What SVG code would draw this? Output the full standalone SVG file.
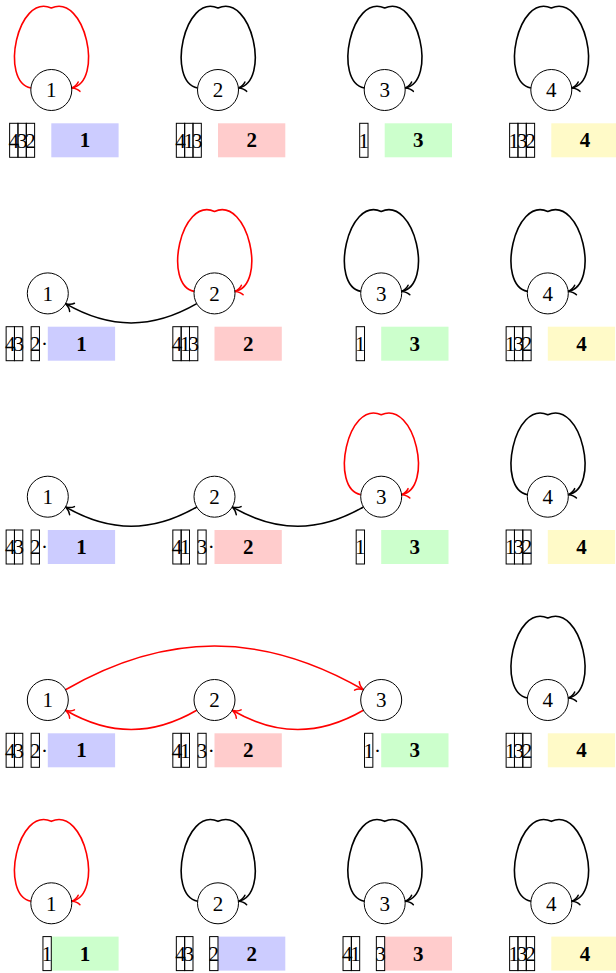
<svg xmlns="http://www.w3.org/2000/svg" width="616" height="973" viewBox="0 0 616 973">
<style>
.nc{fill:#fff;stroke:#000;stroke-width:1}
.t{font-family:"Liberation Serif","DejaVu Serif",serif;font-size:21px;text-anchor:middle;fill:#000}
.b{font-family:"Liberation Serif","DejaVu Serif",serif;font-size:21px;font-weight:bold;text-anchor:middle;fill:#000}
.c{fill:none;stroke:#000;stroke-width:1}
.k{fill:none;stroke:#000;stroke-width:1.6;marker-end:url(#ak)}
.r{fill:none;stroke:#f00;stroke-width:1.6;marker-end:url(#ar)}
.bl{fill:#ccccff}.pk{fill:#ffcccc}.gr{fill:#ccffcc}.ye{fill:#fffac8}
</style>
<defs>
<marker id="ak" markerUnits="userSpaceOnUse" viewBox="-10 -10 20 20" markerWidth="20" markerHeight="20" refX="0" refY="0" orient="auto" overflow="visible">
<path d="M -7.5,-4.8 C -5.8,-2 -2.2,-0.6 0,0 C -2.2,0.6 -5.8,2 -7.5,4.8" fill="none" stroke="#000" stroke-width="1.5" stroke-linecap="round"/>
</marker>
<marker id="ar" markerUnits="userSpaceOnUse" viewBox="-10 -10 20 20" markerWidth="20" markerHeight="20" refX="0" refY="0" orient="auto" overflow="visible">
<path d="M -7.5,-4.8 C -5.8,-2 -2.2,-0.6 0,0 C -2.2,0.6 -5.8,2 -7.5,4.8" fill="none" stroke="#f00" stroke-width="1.5" stroke-linecap="round"/>
</marker>
</defs>
<g id="connectors">
<path class="r" transform="translate(51.3,90)" d="M -20.4,-2 C -52,-8 -34,-97 0,-82 C 34,-97 53,-8 20.4,-2"/>
<path class="k" transform="translate(218,90)" d="M -20.4,-2 C -52,-8 -34,-97 0,-82 C 34,-97 53,-8 20.4,-2"/>
<path class="k" transform="translate(384.7,90)" d="M -20.4,-2 C -52,-8 -34,-97 0,-82 C 34,-97 53,-8 20.4,-2"/>
<path class="k" transform="translate(551.3,90)" d="M -20.4,-2 C -52,-8 -34,-97 0,-82 C 34,-97 53,-8 20.4,-2"/>

<path class="r" transform="translate(214.5,293.4)" d="M -20.4,-2 C -52,-8 -34,-97 0,-82 C 34,-97 53,-8 20.4,-2"/>
<path class="k" transform="translate(381.2,293.4)" d="M -20.4,-2 C -52,-8 -34,-97 0,-82 C 34,-97 53,-8 20.4,-2"/>
<path class="k" transform="translate(547.8,293.4)" d="M -20.4,-2 C -52,-8 -34,-97 0,-82 C 34,-97 53,-8 20.4,-2"/>
<path class="k" d="M 196.75,303.65 C 152.25,329.35 110.05,329.35 65.55,303.65"/>

<path class="r" transform="translate(381.2,496.7)" d="M -20.4,-2 C -52,-8 -34,-97 0,-82 C 34,-97 53,-8 20.4,-2"/>
<path class="k" transform="translate(547.8,496.7)" d="M -20.4,-2 C -52,-8 -34,-97 0,-82 C 34,-97 53,-8 20.4,-2"/>
<path class="k" d="M 196.75,506.95 C 152.25,532.65 110.05,532.65 65.55,506.95"/>
<path class="k" d="M 363.42,506.95 C 318.92,532.65 276.72,532.65 232.22,506.95"/>

<path class="k" transform="translate(547.8,700)" d="M -20.4,-2 C -52,-8 -34,-97 0,-82 C 34,-97 53,-8 20.4,-2"/>
<path class="r" d="M 65.55,689.75 C 166.55,631.45 262.35,631.45 363.45,689.75"/>
<path class="r" d="M 196.75,710.25 C 152.25,735.95 110.05,735.95 65.55,710.25"/>
<path class="r" d="M 363.42,710.25 C 318.92,735.95 276.72,735.95 232.22,710.25"/>

<path class="r" transform="translate(51.3,903.3)" d="M -20.4,-2 C -52,-8 -34,-97 0,-82 C 34,-97 53,-8 20.4,-2"/>
<path class="k" transform="translate(218,903.3)" d="M -20.4,-2 C -52,-8 -34,-97 0,-82 C 34,-97 53,-8 20.4,-2"/>
<path class="k" transform="translate(384.7,903.3)" d="M -20.4,-2 C -52,-8 -34,-97 0,-82 C 34,-97 53,-8 20.4,-2"/>
<path class="k" transform="translate(551.3,903.3)" d="M -20.4,-2 C -52,-8 -34,-97 0,-82 C 34,-97 53,-8 20.4,-2"/>
</g>

<!-- Row 1 -->
<g id="r1n1">
<circle class="nc" cx="51.3" cy="90" r="20.5"/><text class="t" x="51.3" y="97.3">1</text>
<rect class="bl" x="51.3" y="123.3" width="67.3" height="34"/><text class="b" x="84.95" y="147.3">1</text>
<rect class="c" x="9.63" y="123.3" width="8.33" height="34"/><rect class="c" x="17.96" y="123.3" width="8.33" height="34"/><rect class="c" x="26.29" y="123.3" width="8.33" height="34"/>
<text class="t" x="13.8" y="147.5">4</text><text class="t" x="22.13" y="147.5">3</text><text class="t" x="30.46" y="147.5">2</text>
</g>
<g id="r1n2">
<circle class="nc" cx="218" cy="90" r="20.5"/><text class="t" x="218" y="97.3">2</text>
<rect class="pk" x="218" y="123.3" width="67.3" height="34"/><text class="b" x="251.65" y="147.3">2</text>
<rect class="c" x="176.33" y="123.3" width="8.33" height="34"/><rect class="c" x="184.66" y="123.3" width="8.33" height="34"/><rect class="c" x="192.99" y="123.3" width="8.33" height="34"/>
<text class="t" x="180.5" y="147.5">4</text><text class="t" x="188.83" y="147.5">1</text><text class="t" x="197.16" y="147.5">3</text>
</g>
<g id="r1n3">
<circle class="nc" cx="384.7" cy="90" r="20.5"/><text class="t" x="384.7" y="97.3">3</text>
<rect class="gr" x="384.7" y="123.3" width="67.3" height="34"/><text class="b" x="418.35" y="147.3">3</text>
<rect class="c" x="359.69" y="123.3" width="8.33" height="34"/>
<text class="t" x="363.86" y="147.5">1</text>
</g>
<g id="r1n4">
<circle class="nc" cx="551.3" cy="90" r="20.5"/><text class="t" x="551.3" y="97.3">4</text>
<rect class="ye" x="551.3" y="123.3" width="67.3" height="34"/><text class="b" x="584.95" y="147.3">4</text>
<rect class="c" x="509.63" y="123.3" width="8.33" height="34"/><rect class="c" x="517.96" y="123.3" width="8.33" height="34"/><rect class="c" x="526.29" y="123.3" width="8.33" height="34"/>
<text class="t" x="513.8" y="147.5">1</text><text class="t" x="522.13" y="147.5">3</text><text class="t" x="530.46" y="147.5">2</text>
</g>

<!-- Row 2 -->
<g id="r2n1">
<circle class="nc" cx="47.8" cy="293.4" r="20.5"/><text class="t" x="47.8" y="300.7">1</text>
<rect class="bl" x="47.8" y="326.7" width="67.3" height="34"/><text class="b" x="81.45" y="350.7">1</text>
<rect class="c" x="6.13" y="326.7" width="8.33" height="34"/><rect class="c" x="14.46" y="326.7" width="8.33" height="34"/><rect class="c" x="31.12" y="326.7" width="8.33" height="34"/>
<text class="t" x="10.3" y="350.9">4</text><text class="t" x="18.63" y="350.9">3</text><text class="t" x="35.29" y="350.9">2</text><text class="t" x="44.6" y="350.9">·</text>
</g>
<g id="r2n2">
<circle class="nc" cx="214.5" cy="293.4" r="20.5"/><text class="t" x="214.5" y="300.7">2</text>
<rect class="pk" x="214.5" y="326.7" width="67.3" height="34"/><text class="b" x="248.15" y="350.7">2</text>
<rect class="c" x="172.83" y="326.7" width="8.33" height="34"/><rect class="c" x="181.16" y="326.7" width="8.33" height="34"/><rect class="c" x="189.49" y="326.7" width="8.33" height="34"/>
<text class="t" x="177" y="350.9">4</text><text class="t" x="185.33" y="350.9">1</text><text class="t" x="193.66" y="350.9">3</text>
</g>
<g id="r2n3">
<circle class="nc" cx="381.2" cy="293.4" r="20.5"/><text class="t" x="381.2" y="300.7">3</text>
<rect class="gr" x="381.2" y="326.7" width="67.3" height="34"/><text class="b" x="414.85" y="350.7">3</text>
<rect class="c" x="356.19" y="326.7" width="8.33" height="34"/>
<text class="t" x="360.36" y="350.9">1</text>
</g>
<g id="r2n4">
<circle class="nc" cx="547.8" cy="293.4" r="20.5"/><text class="t" x="547.8" y="300.7">4</text>
<rect class="ye" x="547.8" y="326.7" width="67.3" height="34"/><text class="b" x="581.45" y="350.7">4</text>
<rect class="c" x="506.13" y="326.7" width="8.33" height="34"/><rect class="c" x="514.46" y="326.7" width="8.33" height="34"/><rect class="c" x="522.79" y="326.7" width="8.33" height="34"/>
<text class="t" x="510.3" y="350.9">1</text><text class="t" x="518.63" y="350.9">3</text><text class="t" x="526.96" y="350.9">2</text>
</g>

<!-- Row 3 -->
<g id="r3n1">
<circle class="nc" cx="47.8" cy="496.7" r="20.5"/><text class="t" x="47.8" y="504">1</text>
<rect class="bl" x="47.8" y="530" width="67.3" height="34"/><text class="b" x="81.45" y="554">1</text>
<rect class="c" x="6.13" y="530" width="8.33" height="34"/><rect class="c" x="14.46" y="530" width="8.33" height="34"/><rect class="c" x="31.12" y="530" width="8.33" height="34"/>
<text class="t" x="10.3" y="554.2">4</text><text class="t" x="18.63" y="554.2">3</text><text class="t" x="35.29" y="554.2">2</text><text class="t" x="44.6" y="554.2">·</text>
</g>
<g id="r3n2">
<circle class="nc" cx="214.5" cy="496.7" r="20.5"/><text class="t" x="214.5" y="504">2</text>
<rect class="pk" x="214.5" y="530" width="67.3" height="34"/><text class="b" x="248.15" y="554">2</text>
<rect class="c" x="172.83" y="530" width="8.33" height="34"/><rect class="c" x="181.16" y="530" width="8.33" height="34"/><rect class="c" x="197.82" y="530" width="8.33" height="34"/>
<text class="t" x="177" y="554.2">4</text><text class="t" x="185.33" y="554.2">1</text><text class="t" x="201.99" y="554.2">3</text><text class="t" x="211.3" y="554.2">·</text>
</g>
<g id="r3n3">
<circle class="nc" cx="381.2" cy="496.7" r="20.5"/><text class="t" x="381.2" y="504">3</text>
<rect class="gr" x="381.2" y="530" width="67.3" height="34"/><text class="b" x="414.85" y="554">3</text>
<rect class="c" x="356.19" y="530" width="8.33" height="34"/>
<text class="t" x="360.36" y="554.2">1</text>
</g>
<g id="r3n4">
<circle class="nc" cx="547.8" cy="496.7" r="20.5"/><text class="t" x="547.8" y="504">4</text>
<rect class="ye" x="547.8" y="530" width="67.3" height="34"/><text class="b" x="581.45" y="554">4</text>
<rect class="c" x="506.13" y="530" width="8.33" height="34"/><rect class="c" x="514.46" y="530" width="8.33" height="34"/><rect class="c" x="522.79" y="530" width="8.33" height="34"/>
<text class="t" x="510.3" y="554.2">1</text><text class="t" x="518.63" y="554.2">3</text><text class="t" x="526.96" y="554.2">2</text>
</g>

<!-- Row 4 -->
<g id="r4n1">
<circle class="nc" cx="47.8" cy="700" r="20.5"/><text class="t" x="47.8" y="707.3">1</text>
<rect class="bl" x="47.8" y="733.3" width="67.3" height="34"/><text class="b" x="81.45" y="757.3">1</text>
<rect class="c" x="6.13" y="733.3" width="8.33" height="34"/><rect class="c" x="14.46" y="733.3" width="8.33" height="34"/><rect class="c" x="31.12" y="733.3" width="8.33" height="34"/>
<text class="t" x="10.3" y="757.5">4</text><text class="t" x="18.63" y="757.5">3</text><text class="t" x="35.29" y="757.5">2</text><text class="t" x="44.6" y="757.5">·</text>
</g>
<g id="r4n2">
<circle class="nc" cx="214.5" cy="700" r="20.5"/><text class="t" x="214.5" y="707.3">2</text>
<rect class="pk" x="214.5" y="733.3" width="67.3" height="34"/><text class="b" x="248.15" y="757.3">2</text>
<rect class="c" x="172.83" y="733.3" width="8.33" height="34"/><rect class="c" x="181.16" y="733.3" width="8.33" height="34"/><rect class="c" x="197.82" y="733.3" width="8.33" height="34"/>
<text class="t" x="177" y="757.5">4</text><text class="t" x="185.33" y="757.5">1</text><text class="t" x="201.99" y="757.5">3</text><text class="t" x="211.3" y="757.5">·</text>
</g>
<g id="r4n3">
<circle class="nc" cx="381.2" cy="700" r="20.5"/><text class="t" x="381.2" y="707.3">3</text>
<rect class="gr" x="381.2" y="733.3" width="67.3" height="34"/><text class="b" x="414.85" y="757.3">3</text>
<rect class="c" x="364.52" y="733.3" width="8.33" height="34"/>
<text class="t" x="368.69" y="757.5">1</text><text class="t" x="377.6" y="757.5">·</text>
</g>
<g id="r4n4">
<circle class="nc" cx="547.8" cy="700" r="20.5"/><text class="t" x="547.8" y="707.3">4</text>
<rect class="ye" x="547.8" y="733.3" width="67.3" height="34"/><text class="b" x="581.45" y="757.3">4</text>
<rect class="c" x="506.13" y="733.3" width="8.33" height="34"/><rect class="c" x="514.46" y="733.3" width="8.33" height="34"/><rect class="c" x="522.79" y="733.3" width="8.33" height="34"/>
<text class="t" x="510.3" y="757.5">1</text><text class="t" x="518.63" y="757.5">3</text><text class="t" x="526.96" y="757.5">2</text>
</g>

<!-- Row 5 -->
<g id="r5n1">
<circle class="nc" cx="51.3" cy="903.3" r="20.5"/><text class="t" x="51.3" y="910.6">1</text>
<rect class="gr" x="51.3" y="936.6" width="67.3" height="34"/><text class="b" x="84.95" y="960.6">1</text>
<rect class="c" x="42.95" y="936.6" width="8.33" height="34"/>
<text class="t" x="47.12" y="960.8">1</text>
</g>
<g id="r5n2">
<circle class="nc" cx="218" cy="903.3" r="20.5"/><text class="t" x="218" y="910.6">2</text>
<rect class="bl" x="218" y="936.6" width="67.3" height="34"/><text class="b" x="251.65" y="960.6">2</text>
<rect class="c" x="176.33" y="936.6" width="8.33" height="34"/><rect class="c" x="184.66" y="936.6" width="8.33" height="34"/><rect class="c" x="209.65" y="936.6" width="8.33" height="34"/>
<text class="t" x="180.5" y="960.8">4</text><text class="t" x="188.83" y="960.8">3</text><text class="t" x="213.82" y="960.8">2</text>
</g>
<g id="r5n3">
<circle class="nc" cx="384.7" cy="903.3" r="20.5"/><text class="t" x="384.7" y="910.6">3</text>
<rect class="pk" x="384.7" y="936.6" width="67.3" height="34"/><text class="b" x="418.35" y="960.6">3</text>
<rect class="c" x="343.03" y="936.6" width="8.33" height="34"/><rect class="c" x="351.36" y="936.6" width="8.33" height="34"/><rect class="c" x="376.35" y="936.6" width="8.33" height="34"/>
<text class="t" x="347.2" y="960.8">4</text><text class="t" x="355.53" y="960.8">1</text><text class="t" x="380.52" y="960.8">3</text>
</g>
<g id="r5n4">
<circle class="nc" cx="551.3" cy="903.3" r="20.5"/><text class="t" x="551.3" y="910.6">4</text>
<rect class="ye" x="551.3" y="936.6" width="67.3" height="34"/><text class="b" x="584.95" y="960.6">4</text>
<rect class="c" x="509.63" y="936.6" width="8.33" height="34"/><rect class="c" x="517.96" y="936.6" width="8.33" height="34"/><rect class="c" x="526.29" y="936.6" width="8.33" height="34"/>
<text class="t" x="513.8" y="960.8">1</text><text class="t" x="522.13" y="960.8">3</text><text class="t" x="530.46" y="960.8">2</text>
</g>
</svg>
